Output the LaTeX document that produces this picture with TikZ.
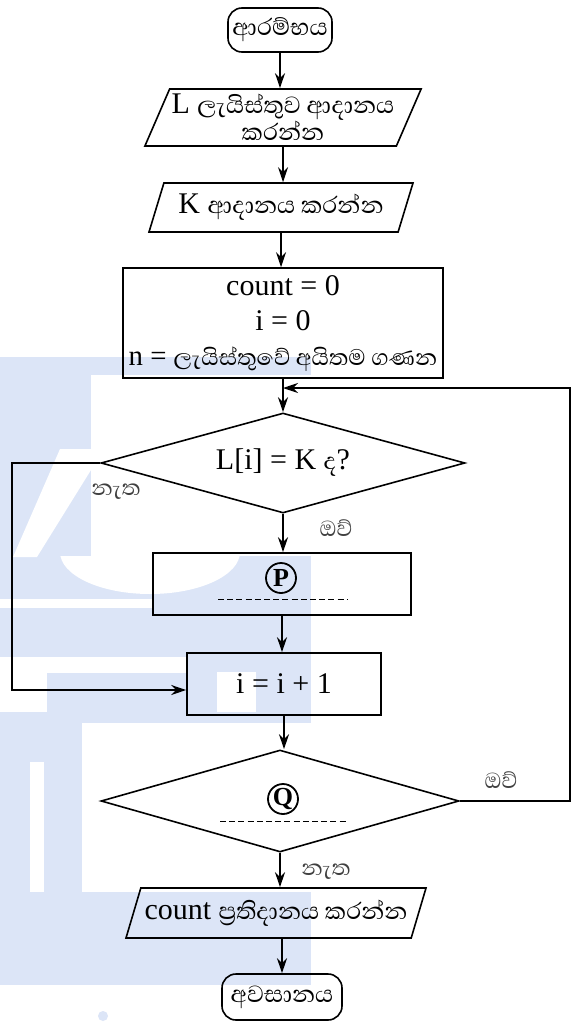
\documentclass[tikz,border=0pt]{standalone}
\usepackage{fontspec}
\setmainfont{Liberation Serif}
\newfontfamily\sinhalafont[Script=Sinhala]{Abhaya Libre}
\usetikzlibrary{shapes.geometric,arrows.meta}

\definecolor{wmblue}{HTML}{DCE5F7}

\tikzset{
	base/.style={draw,line width=0.8pt,inner sep=1pt,align=center,font=\fontsize{15}{17.5}\selectfont},
	term/.style={base,rounded corners=7pt,minimum width=52pt,minimum height=22pt,font=\sinhalafont\fontsize{15}{17}\selectfont},
	io/.style={base,trapezium,trapezium left angle=64,trapezium right angle=116,trapezium stretches body},
	proc/.style={base,rectangle},
	dec/.style={base,diamond,aspect=3.6,inner sep=0pt},
	circmark/.style={draw,circle,line width=0.9pt,inner sep=0pt,minimum size=15pt,font=\bfseries\fontsize{13}{13}\selectfont},
	lbl/.style={font=\sinhalafont\fontsize{14}{16}\selectfont,text=black!75},
	blank/.style={line width=0.5pt,dash pattern=on 3pt off 1.6pt},
	arr/.style={line width=0.8pt,-{Stealth[length=7.5pt,width=5pt]}}
}

\begin{document}
\begin{tikzpicture}[x=0.5pt,y=-0.5pt]
	\useasboundingbox (0,0) rectangle (574,1022);

	% watermark behind the chart
	\fill [wmblue] (0,357) rectangle (311,1022);
	\fill [white] (91,375) rectangle (574,556);
	\fill [white] (60,449) -- (91,449) -- (91,470) -- (37,557) -- (13,557) -- cycle;
	\begin{scope}
		\clip (0,556) rectangle (311,600);
		\fill [white] (150,552) ellipse [x radius=90,y radius=42];
	\end{scope}
	\fill [white] (0,599) rectangle (154,608);
	\fill [white] (0,657) rectangle (187,673);
	\fill [white] (0,673) rectangle (47,712);
	\fill [white] (217,672) rectangle (256,712);
	\fill [white] (82,723) rectangle (311,892);
	\fill [white] (30,762) rectangle (44,892);
	\fill [white] (0,985) rectangle (574,1022);
	\fill [wmblue] (103,1016) circle [radius=5];

	% boxes
	\node (start) [term] at (280,30) {ආරම්භය};
	\node (inL) [io,minimum width=133.5pt,minimum height=28.5pt] at (283,117.5) {L {\sinhalafont ලැයිස්තුව ආදානය}\\[-4pt]{\sinhalafont කරන්න}};
	\node (inK) [io,minimum width=132pt,minimum height=24.5pt] at (281,207.5) {K {\sinhalafont ආදානය කරන්න}};
	\node (init) [proc,minimum width=160pt,minimum height=55pt] at (283,323) {count = 0\\i = 0\\{\fontsize{14.4}{17.5}\selectfont n = {\sinhalafont ලැයිස්තුවේ අයිතම ගණන}}};
	\node (test) [dec,minimum width=182pt,minimum height=50pt] at (283,463) {L[i] = K {\sinhalafont ද}?};
	\node (stepP) [proc,minimum width=129pt,minimum height=31pt] at (282,584) {};
	\node (incr) [proc,minimum width=97pt,minimum height=31pt] at (284,684) {i = i + 1};
	\node (loop) [dec,minimum width=179pt,minimum height=51pt] at (280,801) {};
	\node (outC) [io,minimum width=150pt,minimum height=25pt] at (276,913) {count {\sinhalafont ප්‍රතිදානය කරන්න}};
	\node (stop) [term,minimum width=60pt,minimum height=23pt] at (282,997) {අවසානය};

	% blanks to fill in
	\node (pmark) [circmark] at (281,578) {P};
	\draw [blank] (218,599) -- (347,599);
	\node (qmark) [circmark] at (283,799) {Q};
	\draw [blank] (220,821) -- (346,821);

	% labels
	\node (noA) [lbl] at (116,492) {නැත};
	\node (yesA) [lbl] at (336,528) {ඔව්};
	\node (yesB) [lbl] at (501,780) {ඔව්};
	\node (noB) [lbl] at (326,872) {නැත};

	% flow
	\coordinate (merge) at (283,388);
	\coordinate (loopR) at (570,388);
	\coordinate (loopL) at (12,690);
	\draw [arr] (start.south) -- (start.south |- inL.north);
	\draw [arr] (inL.south) -- (inL.south |- inK.north);
	\draw [arr] (inK.south) -- (inK.south |- init.north);
	\draw [arr] (init.south) -- (init.south |- test.north);
	\draw [arr] (test.south) -- (test.south |- stepP.north);
	\draw [arr] (stepP.south) -- (stepP.south |- incr.north);
	\draw [arr] (incr.south) -- (incr.south |- loop.north);
	\draw [arr] (loop.south) -- (loop.south |- outC.north);
	\draw [arr] (outC.south -| stop.north) -- (stop.north);
	\draw [arr] (test.west) -| (loopL) -- (loopL -| incr.west);
	\draw [arr,line width=0.6pt] (loop.east) -| (loopR) -- (merge);
\end{tikzpicture}
\end{document}
